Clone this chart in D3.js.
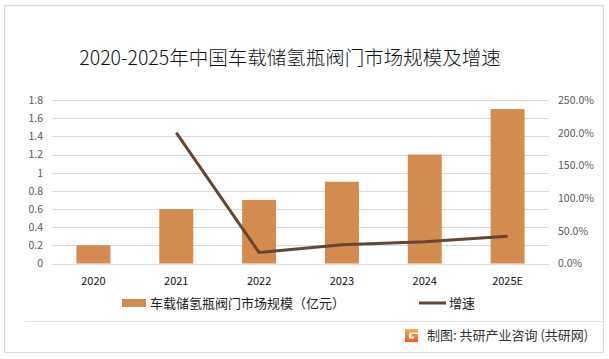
<!DOCTYPE html>
<html><head><meta charset="utf-8">
<script src="https://cdn.jsdelivr.net/npm/d3@7"></script>
<style>body{margin:0;background:#fff}svg{display:block}</style>
</head><body>
<svg id="c" width="609" height="359"></svg>
<script>
const categories = ["2020","2021","2022","2023","2024","2025E"];
const marketSize = [0.2,0.6,0.7,0.9,1.2,1.7];
const growthRate = [null,200.0,16.7,28.6,33.3,41.7];
const leftTicks = [0,0.2,0.4,0.6,0.8,1,1.2,1.4,1.6,1.8];
const rightTicks = [0,50,100,150,200,250];
const title = "2020-2025年中国车载储氢瓶阀门市场规模及增速";
const seriesNames = ["车载储氢瓶阀门市场规模（亿元）","增速"];
const source = "制图: 共研产业咨询 (共研网)";

const svg = d3.select("#c");
const font = "'Noto Sans CJK SC','Noto Sans',sans-serif";
const barColor = "#d48b4f", lineColor = "#654631";

// frame
svg.append("rect").attr("x",4.5).attr("y",5.5).attr("width",599).attr("height",347)
  .attr("fill","#fff").attr("stroke","#d9d9d9").attr("stroke-width",1.2);

// title
svg.append("text").attr("x",290).attr("y",65).attr("text-anchor","middle")
  .attr("font-family",font).attr("font-size",19.5).attr("font-weight",300).attr("fill","#111").text(title);

const x0 = 52, x1 = 549, yTop = 100, yBot = 263.5;
const x = d3.scaleBand().domain(categories).range([x0,x1]).paddingInner(0.59).paddingOuter(0.295);
const yL = d3.scaleLinear().domain([0,1.8]).range([yBot,yTop]);
const yR = d3.scaleLinear().domain([0,250]).range([yBot,yTop]);

// gridlines
svg.append("g").selectAll("line").data(leftTicks).join("line")
  .attr("x1",x0).attr("x2",x1).attr("y1",d=>Math.round(yL(d))+0.5).attr("y2",d=>Math.round(yL(d))+0.5)
  .attr("stroke","#d9d9d9").attr("stroke-width",1);

// left axis
const la = svg.append("g").attr("transform",`translate(${x0-9},0)`)
  .call(d3.axisLeft(yL).tickValues(leftTicks).tickSize(0).tickPadding(0).tickFormat(d=>d3.format("~g")(d)));
la.select(".domain").remove();
la.selectAll("text").attr("font-family",font).attr("font-size",10.5).attr("fill","#595959");

// right axis
const ra = svg.append("g").attr("transform",`translate(${x1+9},0)`)
  .call(d3.axisRight(yR).tickValues(rightTicks).tickSize(0).tickPadding(0).tickFormat(d=>d.toFixed(1)+"%"));
ra.select(".domain").remove();
ra.selectAll("text").attr("font-family",font).attr("font-size",10.5).attr("fill","#595959");

// bottom axis
const ba = svg.append("g").attr("transform",`translate(0,${yBot+8})`)
  .call(d3.axisBottom(x).tickSize(0).tickPadding(6));
ba.select(".domain").remove();
ba.selectAll("text").attr("font-family",font).attr("font-size",11).attr("fill","#111");

// bars
svg.append("g").selectAll("rect").data(marketSize).join("rect")
  .attr("x",(d,i)=>x(categories[i])).attr("width",x.bandwidth())
  .attr("y",d=>yL(d)).attr("height",d=>yL(0)-yL(d)).attr("fill",barColor);

// line
const pts = growthRate.map((v,i)=>[categories[i],v]).filter(d=>d[1]!==null);
svg.append("path").datum(pts)
  .attr("d",d3.line().x(d=>x(d[0])+x.bandwidth()/2).y(d=>yR(d[1])))
  .attr("fill","none").attr("stroke",lineColor).attr("stroke-width",3).attr("stroke-linejoin","round");

// legend
const lg = svg.append("g").attr("font-family",font).attr("font-size",13).attr("fill","#222");
lg.append("rect").attr("x",122).attr("y",299).attr("width",24).attr("height",8).attr("fill",barColor);
lg.append("text").attr("x",150).attr("y",308).text(seriesNames[0]);
lg.append("line").attr("x1",419).attr("x2",446).attr("y1",303).attr("y2",303).attr("stroke",lineColor).attr("stroke-width",3);
lg.append("text").attr("x",449).attr("y",308).text(seriesNames[1]);

// footer
svg.append("line").attr("x1",25).attr("x2",603).attr("y1",321.5).attr("y2",321.5).attr("stroke","#e3e3e3").attr("stroke-width",1);
const logo = svg.append("g").attr("transform","translate(405,329)");
const grad = svg.append("defs").append("linearGradient").attr("id","lg1").attr("x1",0).attr("y1",0).attr("x2",0).attr("y2",1);
grad.append("stop").attr("offset","0").attr("stop-color","#f7b04a");
grad.append("stop").attr("offset","1").attr("stop-color","#ef5a2a");
logo.append("path").attr("d","M0,0 H13 V3.5 H4 V9.5 H9 V7.5 H6.5 V5 H13 V13 H0 Z").attr("fill","url(#lg1)");
svg.append("text").attr("x",427).attr("y",340).attr("font-family",font).attr("font-size",13).attr("fill","#333").text(source);
</script>
</body></html>
